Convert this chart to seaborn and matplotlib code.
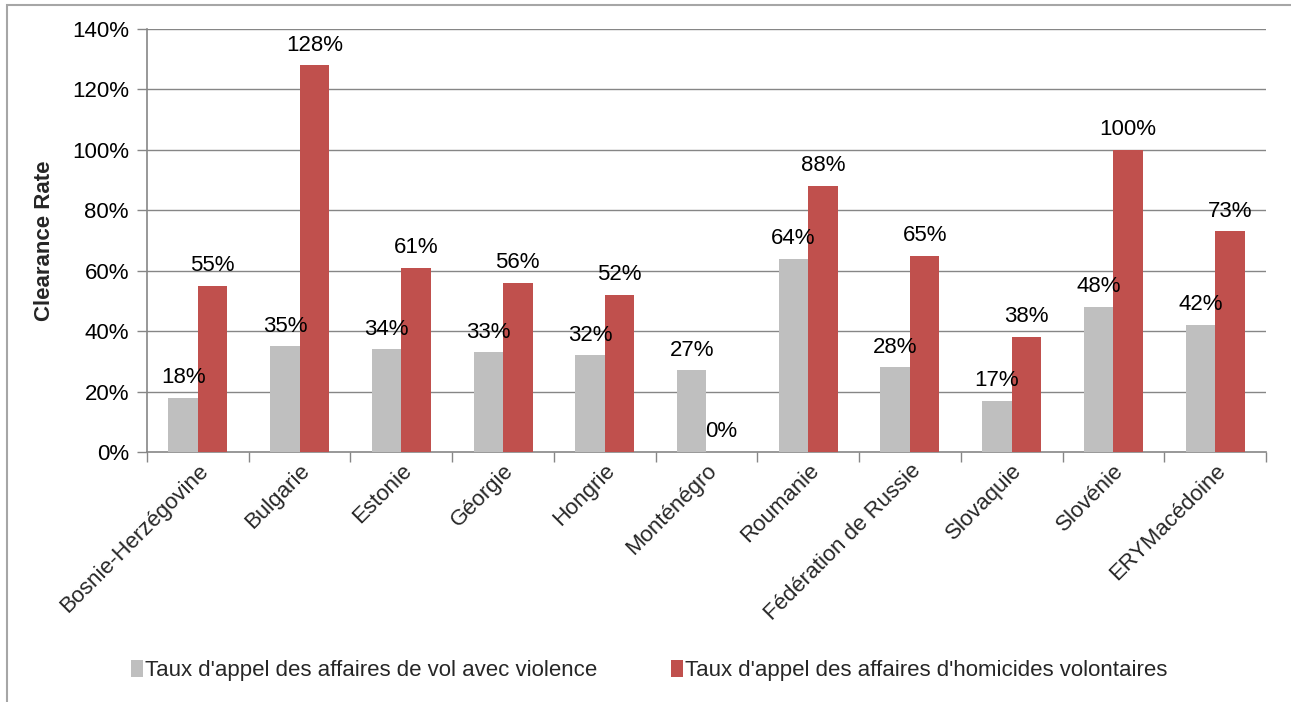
import matplotlib
matplotlib.use("Agg")
import matplotlib.pyplot as plt
from matplotlib.patches import Rectangle
import seaborn as sns
import pandas as pd

pays = ["Bosnie-Herzégovine", "Bulgarie", "Estonie", "Géorgie", "Hongrie",
        "Monténégro", "Roumanie", "Fédération de Russie", "Slovaquie",
        "Slovénie", "ERYMacédoine"]
vol_violence = [18, 35, 34, 33, 32, 27, 64, 28, 17, 48, 42]
homicides = [55, 128, 61, 56, 52, 0, 88, 65, 38, 100, 73]
series = ["Taux d'appel des affaires de vol avec violence",
          "Taux d'appel des affaires d'homicides volontaires"]
y_ticks = [0, 20, 40, 60, 80, 100, 120, 140]

df = pd.DataFrame({
    "pays": pays * 2,
    "serie": [series[0]] * len(pays) + [series[1]] * len(pays),
    "taux": vol_violence + homicides,
})

sns.set_theme(style="white")
plt.rcParams["font.family"] = ["Liberation Sans", "DejaVu Sans"]

fig = plt.figure(figsize=(12.91, 7.02), dpi=100)
ax = fig.add_axes([0.1139, 0.3561, 0.8667, 0.6026])

palette = {series[0]: "#BFBFBF", series[1]: "#C0504D"}
sns.barplot(data=df, x="pays", y="taux", hue="serie", palette=palette,
            width=0.58, dodge=True, gap=0, saturation=1, ax=ax,
            legend=True, linewidth=0, zorder=3)

grid_col = "#868686"
ax.set_ylim(0, 140)
ax.set_xlim(-0.5, len(pays) - 0.5)
ax.set_yticks(y_ticks)
ax.set_yticklabels([f"{v}%" for v in y_ticks], fontsize=16, color="black")
for v in y_ticks[1:]:
    ax.axhline(v, color=grid_col, lw=1.0, zorder=1)

# category boundaries carry the x tick marks
ax.set_xticks([i - 0.5 for i in range(len(pays) + 1)], minor=False)
ax.set_xticklabels([])
ax.tick_params(axis="x", which="major", direction="out", length=7,
               width=1, color=grid_col, bottom=True)
ax.set_xticks(range(len(pays)), minor=True)
ax.set_xticklabels(pays, minor=True, rotation=45, ha="right", va="top",
                   rotation_mode="anchor", fontsize=16)
ax.tick_params(axis="x", which="minor", length=0, pad=6)
ax.tick_params(axis="y", direction="out", length=7, width=1,
               color=grid_col, left=True, pad=6)

for side in ["top", "right"]:
    ax.spines[side].set_visible(False)
for side in ["left", "bottom"]:
    ax.spines[side].set_color(grid_col)
    ax.spines[side].set_linewidth(1.2)

ax.set_xlabel("")
ax.set_ylabel("Clearance Rate", fontsize=16, fontweight="bold", labelpad=12)

for container in ax.containers:
    ax.bar_label(container, labels=[f"{v:.0f}%" for v in container.datavalues],
                 padding=7, fontsize=16, color="black")

handles, labels = ax.get_legend_handles_labels()
ax.legend(handles, labels, loc="center", bbox_to_anchor=(0.503, 0.045),
          bbox_transform=fig.transFigure, ncol=2, frameon=False,
          fontsize=16, handlelength=0.55, handleheight=0.8,
          handletextpad=0.1, columnspacing=3.3)

# outer chart frame
fig.patches.append(Rectangle((7 / 1291, -0.2), 1.2, 1.2 - 5 / 702,
                             transform=fig.transFigure, fill=False,
                             edgecolor="#A6A6A6", lw=1.5))

fig.savefig("out.png", dpi=100)
